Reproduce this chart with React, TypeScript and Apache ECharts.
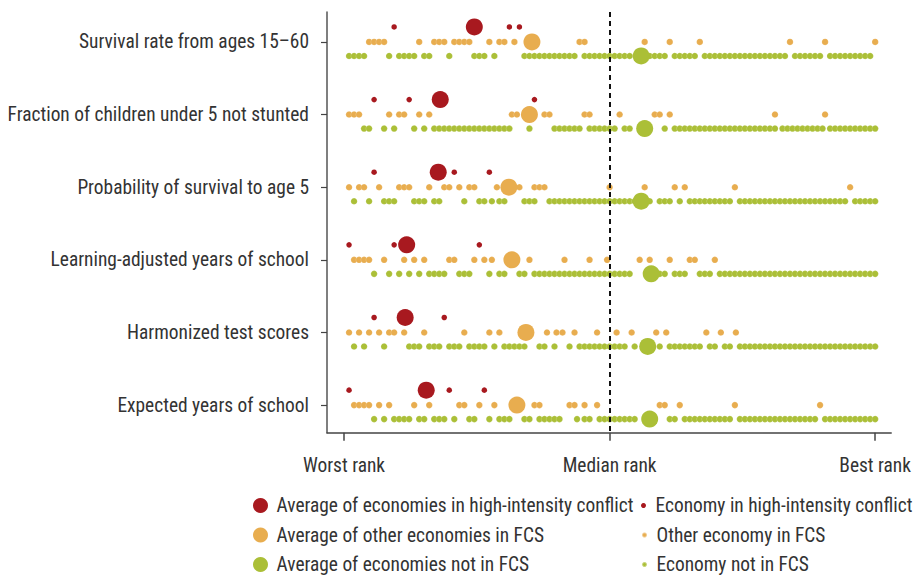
import React, { useEffect, useRef } from "react";
import * as echarts from "echarts";

const categories = [
  "Survival rate from ages 15–60",
  "Fraction of children under 5 not stunted",
  "Probability of survival to age 5",
  "Learning-adjusted years of school",
  "Harmonized test scores",
  "Expected years of school",
];

const rankTicks = [0, 53, 106];
const rankLabels = ["Worst rank", "Median rank", "Best rank"];

// Rank positions (0 = worst, 106 = best) per indicator
const conflictEconomies: number[][] = [
  [10, 33, 35],
  [6, 13, 38],
  [6, 22, 29],
  [1, 10, 27],
  [6, 20],
  [1, 21, 28],
];
const conflictAverage = [26, 19.2, 18.8, 12.5, 12.2, 16.4];

const otherFcsEconomies: number[][] = [
  [5, 6, 7, 8, 15, 18, 19, 20, 22, 23, 24, 25, 29, 31, 32, 34, 47, 48, 60, 65, 71, 89, 96, 106],
  [1, 2, 3, 9, 11, 12, 15, 17, 33.5, 34.5, 40, 41, 48, 49, 55, 62, 63, 65, 86, 96],
  [1, 3, 4, 7, 11, 12, 13, 17, 20, 21, 23, 25, 26, 30.5, 35, 38, 39, 40, 53, 60, 66, 68, 78, 101],
  [2, 3, 4, 5, 8, 12, 14, 16, 21, 22, 26, 28, 29.5, 37, 44, 49, 52.5, 59, 61, 65, 69, 70, 74],
  [1, 3, 5, 7, 9, 10, 12, 16, 24, 29, 31, 40.5, 42.4, 43.6, 46, 50.5, 54.4, 57.4, 62.3, 64.3, 72.3, 75.2, 78.2],
  [2, 3, 4, 5, 7, 9, 14, 17, 23, 24, 27, 30, 38, 39, 45, 46, 48, 50.5, 63, 64, 67, 78, 95],
];
const otherFcsAverage = [37.5, 37, 32.9, 33.5, 36.3, 34.5];

const nonFcsEconomies: number[][] = [
  [1, 2, 3, 4, 9, 11, 12, 13, 14, 16, 17, 21, 26, 27, 28, 30, 36, 37, 38, 39, 40, 41, 42, 43, 44, 45, 46,
    48, 49, 50, 51, 52, 53, 54, 55, 56, 57, 61, 62, 63, 64, 66, 67, 68, 69, 70, 72, 73, 74, 75, 76, 77, 78,
    79, 80, 81, 82, 83, 84, 85, 86, 87, 88, 90, 91, 92, 93, 94, 95, 97, 98, 99, 100, 101, 102, 103, 104, 105],
  [4, 5, 8, 10, 14, 16, 18, 19, 20, 21, 22, 23, 24, 25, 26, 27, 28, 29, 30, 31, 32, 33, 37, 42, 43, 44, 45,
    46, 47, 49, 50, 51, 52, 53, 54, 56, 57, 64, 66, 67, 68, 69, 70, 71, 72, 73, 74, 75, 76, 77, 78, 79, 80,
    81, 82, 83, 84, 85, 86, 87.5, 88.5, 89.5, 90.5, 91.5, 92.5, 93.5, 94.5, 95.5, 97, 98, 99, 100, 101, 102,
    103, 104, 105, 106],
  [2, 5, 8, 9, 10, 14, 15, 16, 18, 19, 24, 27, 28, 29.5, 31, 32, 36, 37, 38, 41, 42, 43, 44, 45, 46, 47, 48,
    49, 50, 51, 52, 53, 54, 55, 56, 57, 58, 61, 63, 64, 65, 67, 69, 70, 71, 72, 73, 74, 75, 76, 77, 79, 80,
    81, 82, 83, 84, 85, 86, 87, 88, 89, 90, 91, 92, 93, 94, 95, 96, 97, 98, 99, 100, 102, 103, 104, 105, 106],
  [6, 9, 11, 13, 15, 17, 18, 19, 20, 23, 24, 25, 29, 31, 32, 35, 36, 38, 39, 40, 41, 42, 43, 44, 45, 46, 47,
    48, 49, 50, 51, 52, 53, 54, 55, 56, 57, 63, 64, 66, 67, 68, 71, 72, 73, 75, 76, 77, 78, 79, 80, 81, 82,
    83, 84, 85, 86, 87, 88, 89, 90, 91, 92, 93, 94, 95, 96, 97, 98, 99, 100, 101, 102, 103, 104, 105, 106],
  [2, 4, 8, 13, 14, 15, 17, 18, 19, 21, 22, 23, 25, 26, 27, 28, 30, 32, 33, 34, 35, 36, 39, 40, 42, 45, 47,
    48, 49, 50, 51, 52, 53, 54, 55, 56, 58, 63, 65, 66, 67, 68, 69, 70, 71, 73, 74, 76, 77, 79, 80, 81, 82,
    83, 84, 85, 86, 87, 88, 89, 90, 91, 92, 93, 94, 95, 96, 97, 98, 99, 100, 101, 102, 103, 104, 105, 106],
  [6, 8, 10, 11, 12, 13, 15, 16, 18, 19, 20, 22, 25, 26, 29, 31, 32, 33, 36, 37, 39, 40, 41, 42, 43, 46.5,
    48, 49, 51, 52, 53, 54, 55, 56, 57, 58, 65, 66, 68, 69, 70, 71, 72, 73, 74, 75, 76, 77, 79, 80, 81, 82,
    83, 84, 85, 86, 87, 88, 89, 90, 91, 92, 93, 94, 96, 97, 98, 99, 100, 101, 102, 103, 104, 105, 106],
];
const nonFcsAverage = [59.3, 60, 59.3, 61.3, 60.6, 61];

const seriesNames = {
  conflictAvg: "Average of economies in high-intensity conflict",
  otherAvg: "Average of other economies in FCS",
  nonAvg: "Average of economies not in FCS",
  conflict: "Economy in high-intensity conflict",
  other: "Other economy in FCS",
  non: "Economy not in FCS",
};

const RED = "#A8191F";
const ORANGE = "#E8AD4F";
const GREEN = "#ABBF37";
const TEXT = "#333333";
const FONT = "'Liberation Sans Narrow', 'Roboto Condensed', Roboto, 'Noto Sans', sans-serif";
const FS = 19.4;

const OFF_RED = -0.206;
const OFF_ORANGE = 0;
const OFF_GREEN = 0.193;

function rowPoints(rows: number[][], off: number) {
  const out: number[][] = [];
  rows.forEach((xs, i) => xs.forEach((x) => out.push([x, i + off])));
  return out;
}
function avgPoints(vals: number[], off: number) {
  return vals.map((x, i) => [x, i + off]);
}

export default function App() {
  const ref = useRef<HTMLDivElement>(null);
  useEffect(() => {
    if (!ref.current) return;
    const chart = echarts.init(ref.current, null, { renderer: "svg" });
    const small = (name: string, color: string, data: number[][], size: number, border: boolean) => ({
      name,
      type: "scatter",
      data,
      symbol: "circle",
      symbolSize: size,
      z: 2,
      silent: true,
      itemStyle: {
        color,
        opacity: 1,
        borderColor: border ? "rgba(255,255,255,0.35)" : color,
        borderWidth: border ? 0.5 : 0,
      },
    });
    const big = (name: string, color: string, data: number[][]) => ({
      name,
      type: "scatter",
      data,
      symbol: "circle",
      symbolSize: 17,
      z: 5,
      silent: true,
      itemStyle: { color, opacity: 1 },
    });
    const legendText = { fontSize: FS, color: TEXT, fontFamily: FONT, lineHeight: 18 };
    const rowTops = [496, 525.5, 555];
    const bigNames = [seriesNames.conflictAvg, seriesNames.otherAvg, seriesNames.nonAvg];
    const smallNames = [seriesNames.conflict, seriesNames.other, seriesNames.non];
    const legends: any[] = [];
    bigNames.forEach((n, i) =>
      legends.push({
        data: [n],
        orient: "horizontal",
        left: 253,
        top: rowTops[i],
        padding: 0,
        itemWidth: 22,
        itemHeight: 15,
        icon: "circle",
        selectedMode: false,
        textStyle: legendText,
      })
    );
    smallNames.forEach((n, i) =>
      legends.push({
        data: [n],
        orient: "horizontal",
        left: 641,
        top: rowTops[i],
        padding: 0,
        itemWidth: 14,
        itemHeight: 5,
        icon: "circle",
        selectedMode: false,
        textStyle: legendText,
      })
    );
    const option: any = {
      animation: false,
      backgroundColor: "#ffffff",
      textStyle: { fontFamily: FONT },
      grid: { left: 327, right: 22, top: 12, bottom: 142.3, containLabel: false },
      xAxis: {
        type: "value",
        min: -3.4,
        max: 109.2,
        splitLine: { show: false },
        axisLine: { show: true, onZero: false, lineStyle: { color: "#444", width: 1.5 } },
        axisTick: { show: true, customValues: rankTicks, length: 8, lineStyle: { color: "#444", width: 1.5 } },
        axisLabel: {
          show: true,
          customValues: rankTicks,
          formatter: (v: number) => rankLabels[rankTicks.indexOf(Math.round(v))] ?? "",
          margin: 23,
          fontSize: FS,
          color: TEXT,
          fontFamily: FONT,
        },
      },
      yAxis: {
        type: "value",
        inverse: true,
        min: -0.412,
        max: 5.38,
        splitLine: { show: false },
        axisLine: { show: true, onZero: false, lineStyle: { color: "#555", width: 1.5 } },
        axisTick: { show: true, customValues: [0, 1, 2, 3, 4, 5], length: 6, lineStyle: { color: "#444", width: 1.2 } },
        axisLabel: {
          show: true,
          customValues: [0, 1, 2, 3, 4, 5],
          formatter: (v: number) => categories[Math.round(v)] ?? "",
          margin: 18,
          fontSize: FS,
          color: TEXT,
          fontFamily: FONT,
        },
      },
      legend: legends,
      series: [
        small(seriesNames.non, GREEN, rowPoints(nonFcsEconomies, OFF_GREEN), 6.5, true),
        small(seriesNames.other, ORANGE, rowPoints(otherFcsEconomies, OFF_ORANGE), 6.5, true),
        small(seriesNames.conflict, RED, rowPoints(conflictEconomies, OFF_RED), 5.5, false),
        {
          name: "median",
          type: "scatter",
          data: [],
          z: 3,
          silent: true,
          markLine: {
            silent: true,
            symbol: ["none", "none"],
            label: { show: false },
            lineStyle: { type: [5, 4], color: "#111", width: 2 },
            data: [{ xAxis: 53 }],
          },
        },
        big(seriesNames.nonAvg, GREEN, avgPoints(nonFcsAverage, OFF_GREEN)),
        big(seriesNames.otherAvg, ORANGE, avgPoints(otherFcsAverage, OFF_ORANGE)),
        big(seriesNames.conflictAvg, RED, avgPoints(conflictAverage, OFF_RED)),
      ],
    };
    chart.setOption(option);
    return () => chart.dispose();
  }, []);
  return (
    <div
      ref={ref}
      style={{ position: "absolute", left: 0, top: 0, width: 914, height: 575, background: "#fff" }}
    />
  );
}
